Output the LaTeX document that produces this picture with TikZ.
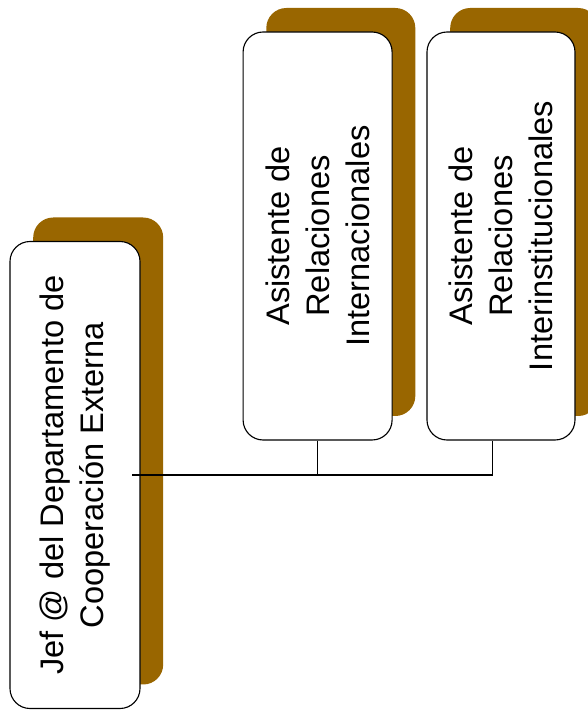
\documentclass[tikz,border=0pt]{standalone}
\usepackage{fontspec}
\setmainfont{Liberation Sans}
\usetikzlibrary{positioning, shadows}

\definecolor{shadowbrown}{HTML}{996600}

\begin{document}
\begin{tikzpicture}[
    posbox/.style={draw=black, fill=white, line width=0.8pt,
                   rounded corners=0.5cm, rotate=90, align=center,
                   font=\fontsize{23.2}{28.5}\selectfont,
                   drop shadow={shadow xshift=0.58cm, shadow yshift=0.6cm,
                                fill=shadowbrown, opacity=1}},
    link/.style={draw=black, line width=0.9pt}
]
\useasboundingbox (0,0) rectangle (14.7,17.8);

% --- jefatura (left) ---
\node[posbox, minimum width=11.675cm, minimum height=3.25cm] (jef)
    at (1.875, 5.925) {Jef @ del Departamento de\\Cooperaci\'on Externa};

% --- asistentes (top) ---
\node[posbox, minimum width=10.2cm, minimum height=3.725cm] (rint)
    at (7.94, 11.9) {Asistente de\\Relaciones\\Internacionales};
\node[posbox, minimum width=10.2cm, minimum height=3.7cm] (rinst)
    at (12.525, 11.9) {Asistente de\\Relaciones\\Interinstitucionales};

% connectors
\coordinate (jefend) at (3.3, 5.925);
\coordinate (rinstfoot) at ([xshift=-0.22cm]rinst.west);
\draw[link] (jefend) -| (rinstfoot);
\draw[link] (rint.west) -- (rint.west |- jefend);

\end{tikzpicture}
\end{document}
